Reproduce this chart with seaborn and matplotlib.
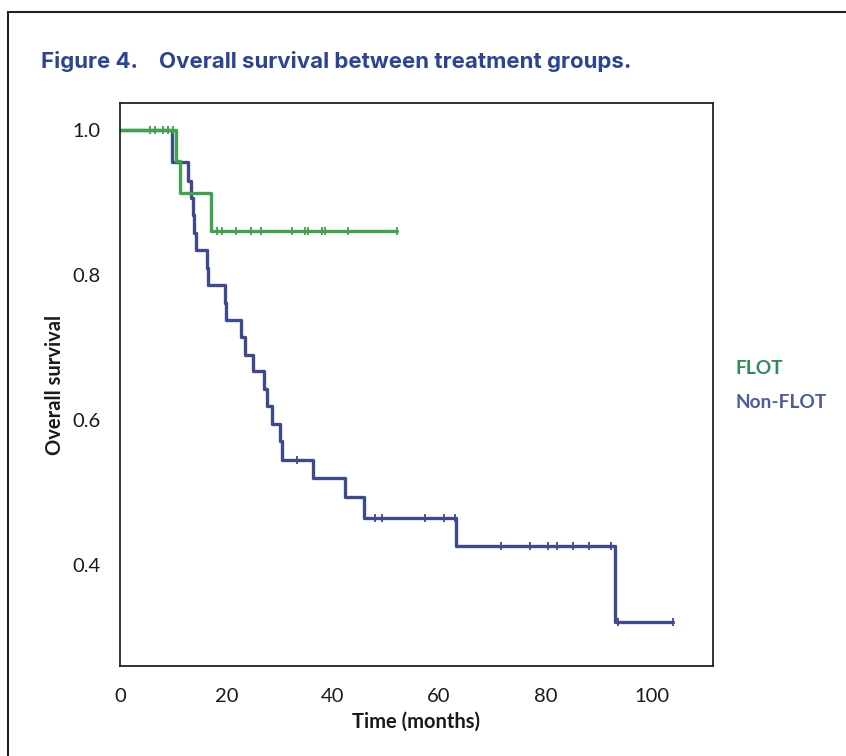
import numpy as np
import seaborn as sns
import matplotlib.pyplot as plt
from matplotlib.patches import Rectangle

# Kaplan-Meier curves (time in months, survival)
flot_t = [0, 10.6, 11.3, 17.2]
flot_s = [1.0, 0.957, 0.913, 0.860]
flot_end = 52.0
flot_cens = [5.6, 6.6, 8.1, 9.1, 10.0, 18.2, 19.1, 21.9, 24.7, 26.6, 32.3,
             34.8, 35.4, 37.9, 38.5, 42.9, 52.0]

nonflot_t = [0, 9.7, 12.7, 13.3, 13.8, 14.0, 14.3, 16.3, 16.5, 19.7, 20.0,
             22.7, 23.5, 25.1, 27.1, 27.6, 28.6, 30.1, 30.4, 36.2, 42.3,
             45.9, 63.2, 93.0]
nonflot_s = [1.0, 0.955, 0.929, 0.906, 0.882, 0.858, 0.835, 0.810, 0.786,
             0.762, 0.738, 0.714, 0.690, 0.667, 0.643, 0.619, 0.595, 0.571,
             0.545, 0.520, 0.494, 0.465, 0.426, 0.321]
nonflot_end = 104.0
nonflot_cens = [33.2, 47.9, 49.2, 57.3, 60.9, 62.9, 71.6, 77.1, 80.5, 82.2,
                85.1, 88.2, 92.4, 93.6, 104.0]

groups = ['FLOT', 'Non-FLOT']
line_colors = {'FLOT': '#3fa34e', 'Non-FLOT': '#3d4a8e'}
text_colors = {'FLOT': '#2f8c58', 'Non-FLOT': '#4f5c9c'}

sns.set_style('white')
plt.rcParams['font.family'] = ['Lato', 'DejaVu Sans']

fig = plt.figure(figsize=(8.46, 7.56), dpi=100)
ax = fig.add_axes([120 / 846, 1 - 666 / 756, 593 / 846, 563 / 756])

# outer frame of the figure box
fig.add_artist(Rectangle((8 / 846, -0.2), 1.2, 1 - 12 / 756 + 0.2,
                         transform=fig.transFigure, fill=False,
                         edgecolor='#222222', linewidth=1.5))


def draw_curve(t, s, end, cens, color):
    tt = list(t) + [end]
    ss = list(s) + [s[-1]]
    sns.lineplot(x=tt, y=ss, drawstyle='steps-post', color=color,
                 linewidth=2.4, estimator=None, sort=False, ax=ax)
    idx = np.searchsorted(t, cens, side='right') - 1
    cy = np.array(s)[idx]
    sns.scatterplot(x=cens, y=cy, marker='|', s=28, linewidth=1.3,
                    color=color, ax=ax, zorder=3)


draw_curve(nonflot_t, nonflot_s, nonflot_end, nonflot_cens, line_colors['Non-FLOT'])
draw_curve(flot_t, flot_s, flot_end, flot_cens, line_colors['FLOT'])

ax.set_xlim(0, 111.5)
ax.set_ylim(0.261, 1.037)
ax.set_xticks([0, 20, 40, 60, 80, 100])
ax.set_yticks([0.4, 0.6, 0.8, 1.0])
ax.set_yticklabels(['0.4', '0.6', '0.8', '1.0'])
ax.tick_params(axis='both', direction='out', length=9, width=1.2,
               color='#222222', labelsize=14.5, labelcolor='#1a1a1a', pad=5)
ax.tick_params(axis='x', pad=7)
for sp in ax.spines.values():
    sp.set_color('#222222')
    sp.set_linewidth(1.3)

ax.set_xlabel('Time (months)', fontsize=14.5, fontweight='bold', color='#1a1a1a', labelpad=5)
ax.set_ylabel('Overall survival', fontsize=14.5, fontweight='bold', color='#1a1a1a', labelpad=5)

fig.text(41 / 846, 1 - 62 / 756, 'Figure 4.    Overall survival between treatment groups.',
         fontsize=16, fontweight='bold', color='#2b4496', va='center', ha='left',
         family=['Inter', 'DejaVu Sans'])

fig.text(735 / 846, 1 - 368 / 756, groups[0], fontsize=13.8, fontweight='bold',
         color=text_colors['FLOT'], va='center', ha='left')
fig.text(735 / 846, 1 - 402 / 756, groups[1], fontsize=13.8, fontweight='bold',
         color=text_colors['Non-FLOT'], va='center', ha='left')

fig.savefig('out.png', dpi=100)
